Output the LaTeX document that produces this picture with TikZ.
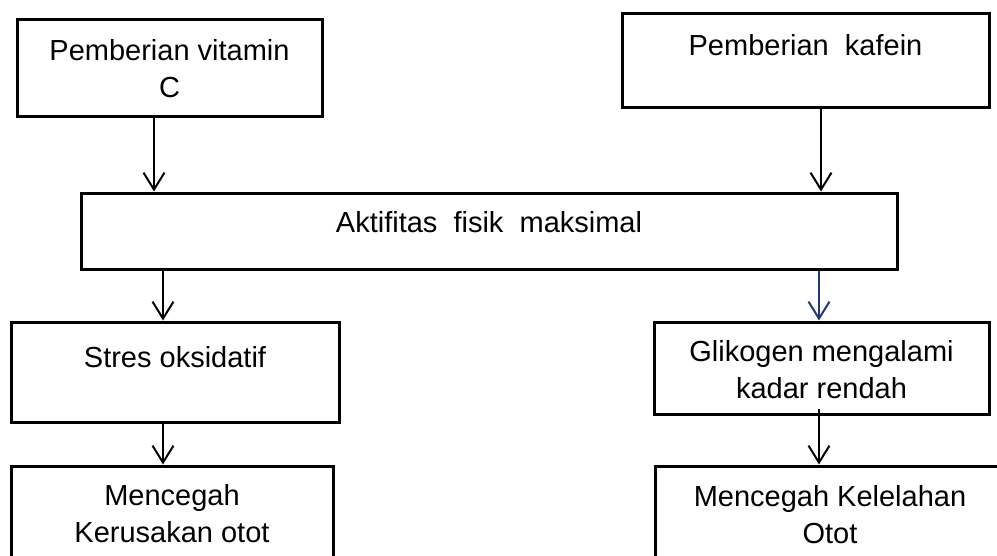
\documentclass[tikz,border=0pt]{standalone}
\usepackage{fontspec}
\setmainfont{Liberation Sans}
\usetikzlibrary{arrows.meta}

\definecolor{navy}{RGB}{31,56,122}

\tikzset{
  x=1pt, y=-1pt,
  box/.style={draw=black, line width=3pt, fill=white, inner sep=0pt},
  % anchor=base sits on the baseline of the last line
  lbl/.style={font=\fontsize{29}{37}\selectfont, align=center, anchor=base, inner sep=0pt},
  arr/.style={draw=black, line width=2pt, -{Straight Barb[length=17pt,width=21pt]}},
}

\newcommand{\boxat}[5]{%
  \node[box, minimum width=#4-#2, minimum height=#5-#3] (#1) at ({(#2+#4)/2},{(#3+#5)/2}) {};}

\begin{document}
\begin{tikzpicture}
\useasboundingbox (0,0) rectangle (997,555);
\clip (0,0) rectangle (997,555);

% boxes
\boxat{vitc}{17}{19}{322}{116}
\boxat{kafein}{622}{13}{989}{107}
\boxat{akt}{81}{193}{897}{269}
\boxat{stres}{11}{322}{339}{422}
\boxat{glik}{654}{322}{989}{414}
\boxat{rusak}{11}{466}{333}{580}
\boxat{lelah}{655}{466}{1005}{580}

% texts
\node[lbl] (vitc-t) at (169.5,97) {Pemberian vitamin\\C};
\node[lbl] (kafein-t) at (805.5,55) {Pemberian\ \ kafein};
\node[lbl] (akt-t) at (489,232) {Aktifitas\ \ fisik\ \ maksimal};
\node[lbl] (stres-t) at (175,367) {Stres oksidatif};
\node[lbl] (glik-t) at (821.5,398) {Glikogen mengalami\\kadar rendah};
\node[lbl] (rusak-t) at (172,542) {Mencegah\\Kerusakan otot};
\node[lbl] (lelah-t) at (830,543) {Mencegah Kelelahan\\Otot};

% connectors
\draw[arr] (vitc.south -| 154,0) -- (akt.north -| 154,0);
\draw[arr] (kafein.south -| 821,0) -- (akt.north -| 821,0);
\draw[arr] (akt.south -| 163,0) -- (stres.north -| 163,0);
\draw[arr, draw=navy] (akt.south -| 819,0) -- (glik.north -| 819,0);
\draw[arr] (stres.south -| 163,0) -- (rusak.north -| 163,0);
\draw[arr] ([yshift=7pt]glik.south -| 819,0) -- (lelah.north -| 819,0);
\end{tikzpicture}
\end{document}
